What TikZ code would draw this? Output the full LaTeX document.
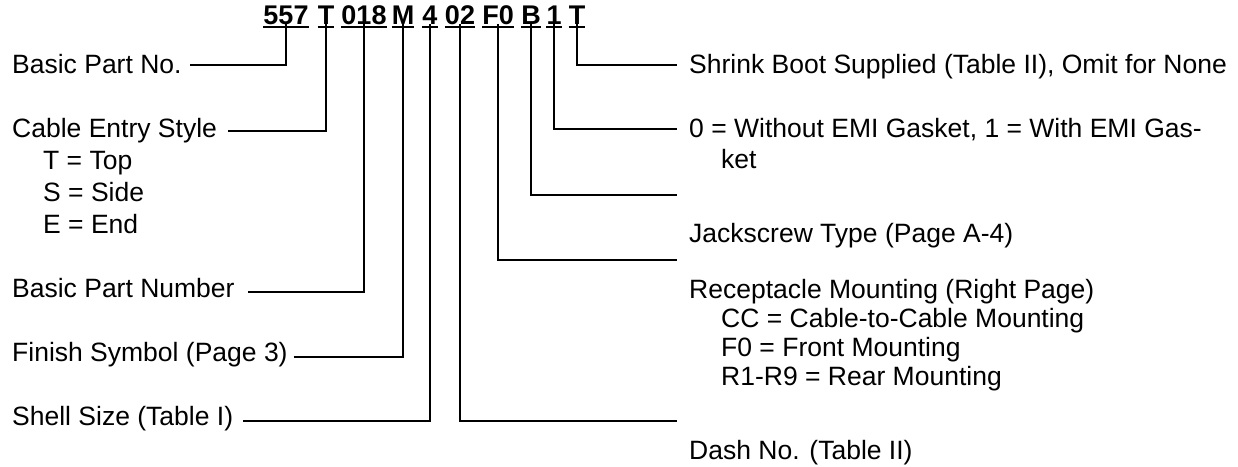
\documentclass[tikz,border=0pt]{standalone}
\usepackage{fontspec}
\setmainfont{Liberation Sans}
\usetikzlibrary{calc}
\begin{document}
\begin{tikzpicture}[x=1pt,y=-1pt,
  lbl/.style={anchor=base west, inner sep=0pt, font=\fontsize{26.5}{32}\selectfont},
  code/.style={anchor=base, inner sep=0pt, font=\fontsize{27}{32}\selectfont\bfseries},
  conn/.style={line width=2.8pt},
  uline/.style={line width=2.2pt}]
\useasboundingbox (0,0) rectangle (1238,466);

% part number code
\foreach \n/\x/\t in {c557/286/557, cT/326/T, c018/364/018, cM/403/M, c4/430/4,
                      c02/460/02, cF0/498/F0, cB/531/B, c1/554/1, cT2/577/T}{
  \node[code] (\n) at (\x,24) {\t};
  \draw[uline] ([yshift=-3pt]\n.base west) -- ([yshift=-3pt]\n.base east);
}

% left labels
\node[lbl] (l1) at (12,73) {Basic Part No.};
\node[lbl] (l2) at (12,137) {Cable Entry Style};
\node[lbl] (l2a) at (43,169) {T = Top};
\node[lbl] (l2b) at (43,201) {S = Side};
\node[lbl] (l2c) at (43,233) {E = End};
\node[lbl] (l3) at (12,297) {Basic Part Number};
\node[lbl] (l4) at (12,361) {Finish Symbol (Page 3)};
\node[lbl] (l5) at (12,425) {Shell Size (Table I)};

% right labels
\node[lbl] (r1) at (689,73) {Shrink Boot Supplied (Table II), Omit for None};
\node[lbl] (r2) at (689,137) {0 = Without EMI Gasket, 1 = With EMI Gas-};
\node[lbl] (r2a) at (721,168) {ket};
\node[lbl] (r3) at (689,242) {Jackscrew Type (Page A-4)};
\node[lbl] (r4) at (689,298) {Receptacle Mounting (Right Page)};
\node[lbl] (r4a) at (721,327) {CC = Cable-to-Cable Mounting};
\node[lbl] (r4b) at (721,356) {F0 = Front Mounting};
\node[lbl] (r4c) at (721,385) {R1-R9 = Rear Mounting};
\node[lbl] (r5) at (689,459) {Dash No. (Table II)};

% free ends on the right
\coordinate (eT2) at (677,65);
\coordinate (e1) at (677,129);
\coordinate (eB) at (677,195);
\coordinate (eF0) at (677,260);
\coordinate (e02) at (677,421);

% left connectors
\draw[conn] ($(l1.base east)+(8,-8)$) -| (c557.south);
\draw[conn] ($(l2.base east)+(11,-6)$) -| (cT.south);
\draw[conn] ($(l3.base east)+(13,-5)$) -| (c018.south);
\draw[conn] ($(l4.base east)+(6,-4)$) -| (cM.south);
\draw[conn] ($(l5.base east)+(10,-4)$) -| (c4.south);

% right connectors
\draw[conn] (cT2.south) |- (eT2);
\draw[conn] (c1.south) |- (e1);
\draw[conn] (cB.south) |- (eB);
\draw[conn] (cF0.south) |- (eF0);
\draw[conn] (c02.south) |- (e02);
\end{tikzpicture}
\end{document}
